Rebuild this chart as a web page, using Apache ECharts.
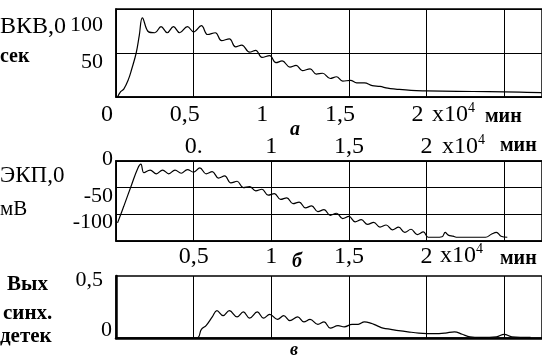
<!DOCTYPE html>
<html>
<head>
<meta charset="utf-8">
<script src="https://cdn.jsdelivr.net/npm/echarts@6.0.0/dist/echarts.min.js"></script>
<style>
  html, body { margin: 0; background: #fff; }
  #main { width: 542px; height: 362px; }
</style>
</head>
<body>
<div id="main"></div>
<script>
// x in units of 10^4 min
const tickValues = [0, 0.5, 1, 1.5, 2];
const tickTextA = ['0', '0,5', '1', '1,5', '2'];
const tickTextBTop = ['', '0.', '1', '1,5', '2'];
const tickTextBBottom = ['', '0,5', '1', '1,5', '2'];

// а) ВКВ, сек
const vkv = [[0.01,0],[0.03,6],[0.05,9],[0.08,20],[0.10,31],[0.13,50],[0.15,70],[0.17,90],
  [0.21,74],[0.25,73],[0.29,80],[0.33,73],[0.37,80],[0.41,73],[0.46,80],[0.50,74],[0.55,81],
  [0.59,71],[0.64,73],[0.68,64],[0.73,66],[0.77,57],[0.81,59],[0.86,51],[0.90,53],[0.94,45],
  [0.99,47],[1.03,39],[1.07,41],[1.12,34],[1.16,36],[1.20,30],[1.25,32],[1.29,26],[1.33,27],
  [1.38,21],[1.42,23],[1.46,18],[1.51,19],[1.55,16],[1.60,16],[1.65,13],[1.70,12],[1.75,10],
  [1.80,9],[1.90,7.5],[2.0,7],[2.2,6.5],[2.4,6],[2.6,5.5],[2.74,5]];

// б) ЭКП, мВ
const ekp = [[0.01,-116],[0.05,-85],[0.10,-45],[0.14,-14],[0.16,-6],[0.18,-22],[0.22,-17],
  [0.26,-24],[0.30,-17],[0.34,-24],[0.38,-17],[0.42,-23],[0.46,-16],[0.50,-21],[0.54,-13],
  [0.58,-24],[0.62,-20],[0.66,-32],[0.70,-28],[0.74,-41],[0.78,-38],[0.82,-50],[0.86,-48],
  [0.90,-56],[0.94,-53],[0.98,-64],[1.02,-61],[1.06,-72],[1.10,-69],[1.14,-80],[1.18,-77],
  [1.22,-88],[1.26,-84],[1.30,-95],[1.34,-91],[1.38,-102],[1.42,-98],[1.46,-108],[1.50,-104],
  [1.54,-114],[1.58,-110],[1.62,-119],[1.66,-115],[1.70,-124],[1.74,-120],[1.78,-129],
  [1.82,-124],[1.86,-134],[1.90,-128],[1.94,-138],[1.98,-133],[2.01,-143],[2.06,-143],
  [2.10,-142],[2.12,-134],[2.14,-139],[2.17,-141],[2.20,-143],[2.30,-143],[2.38,-143],
  [2.42,-137],[2.45,-134],[2.48,-141],[2.52,-143]];

// в) Вых синх. детек
const vyh = [[0,0],[0.52,0],[0.55,0.07],[0.58,0.10],[0.62,0.17],[0.65,0.22],[0.69,0.18],
  [0.73,0.22],[0.78,0.17],[0.82,0.21],[0.86,0.16],[0.91,0.21],[0.95,0.16],[0.99,0.19],
  [1.04,0.15],[1.08,0.18],[1.12,0.14],[1.17,0.17],[1.21,0.13],[1.25,0.15],[1.30,0.11],
  [1.34,0.13],[1.38,0.08],[1.43,0.10],[1.47,0.09],[1.52,0.11],[1.56,0.11],[1.60,0.13],
  [1.64,0.12],[1.68,0.10],[1.72,0.08],[1.77,0.07],[1.82,0.06],[1.88,0.05],[1.95,0.04],
  [2.05,0.035],[2.12,0.04],[2.18,0.05],[2.23,0.03],[2.28,0.01],[2.35,0.005],[2.45,0.01],
  [2.50,0.03],[2.55,0.01],[2.67,0.005]];

const FONT = '"Liberation Serif", "Times New Roman", serif';
const XMAX = 428 / 156;

function tickFmt(texts) {
  return function (v) {
    const i = tickValues.indexOf(Math.round(v * 100) / 100);
    return i < 0 ? '' : texts[i];
  };
}

function xAxis(grid, texts, extra) {
  return Object.assign({
    type: 'value', gridIndex: grid, min: 0, max: XMAX, interval: 0.5,
    axisLine: { lineStyle: { color: '#000', width: 1.5 } },
    axisTick: { show: false },
    splitLine: { show: true, lineStyle: { color: '#000', width: 1 } },
    axisLabel: texts ? {
      color: '#000', fontFamily: FONT, fontSize: 24,
      showMaxLabel: false, formatter: tickFmt(texts)
    } : { show: false }
  }, extra || {});
}

const lbl = (s) => Object.assign({ color: '#000', fontFamily: FONT, fontSize: 22 }, s);
const sup = { s: { fontSize: 14, fontFamily: FONT, fill: '#000', padding: [0, 0, 14, 0] } };

const chart = echarts.init(document.getElementById('main'));
chart.setOption({
  animation: false,
  backgroundColor: '#fff',
  grid: [
    { left: 116, top: 9, width: 428, height: 88, show: true, borderColor: '#000', borderWidth: 1.5 },
    { left: 116, top: 161, width: 428, height: 80, show: true, borderColor: '#000', borderWidth: 1.5 },
    { left: 116, top: 276, width: 428, height: 62, show: true, borderColor: '#000', borderWidth: 1.5 }
  ],
  xAxis: [
    xAxis(0, tickTextA, { axisLabel: { color: '#000', fontFamily: FONT, fontSize: 24, margin: 6,
      padding: [0, 18, 0, 0], showMaxLabel: false, formatter: tickFmt(tickTextA) } }),
    xAxis(1, tickTextBTop, { position: 'top', axisLabel: { color: '#000', fontFamily: FONT,
      fontSize: 24, margin: 2, showMaxLabel: false, formatter: tickFmt(tickTextBTop) } }),
    xAxis(1, tickTextBBottom, { position: 'bottom', splitLine: { show: false },
      axisLabel: { color: '#000', fontFamily: FONT, fontSize: 24, margin: 4,
        showMaxLabel: false, formatter: tickFmt(tickTextBBottom) } }),
    xAxis(2, null, { axisLine: { lineStyle: { color: '#000', width: 2.5 } } })
  ],
  yAxis: [
    {
      type: 'value', gridIndex: 0, min: 0, max: 100, interval: 50,
      axisLine: { show: true, lineStyle: { color: '#000', width: 1.5 } },
      axisTick: { show: false },
      splitLine: { lineStyle: { color: '#000', width: 1 } },
      axisLabel: {
        margin: 13, color: '#000', fontFamily: FONT, fontSize: 22,
        formatter: (v) => v === 100 ? '{a|100}' : v === 50 ? '{b|50}' : '',
        rich: { a: lbl({ padding: [32, 0, 0, 0] }), b: lbl({ padding: [18, 0, 0, 0] }) }
      }
    },
    {
      type: 'value', gridIndex: 1, min: -150, max: 0, interval: 50,
      axisLine: { show: true, lineStyle: { color: '#000', width: 1.5 } },
      axisTick: { show: false },
      splitLine: { lineStyle: { color: '#000', width: 1 } },
      axisLabel: {
        margin: 3, color: '#000', fontFamily: FONT, fontSize: 22,
        formatter: (v) => v === 0 ? '{a|0}' : v === -50 ? '{b|-50}' : v === -100 ? '{c|-100}' : '',
        rich: { a: lbl({ padding: [0, 0, 4, 0] }), b: lbl({ padding: [18, 0, 0, 0] }),
                c: lbl({ padding: [16, 0, 0, 0] }) }
      }
    },
    {
      type: 'value', gridIndex: 2, min: 0, max: 0.5, interval: 0.5,
      axisLine: { show: true, lineStyle: { color: '#000', width: 2.5 } },
      axisTick: { show: false },
      splitLine: { show: false },
      axisLabel: {
        margin: 4, color: '#000', fontFamily: FONT, fontSize: 22,
        formatter: (v) => v === 0.5 ? '{a|0,5}' : '{b|0}',
        rich: { a: lbl({ padding: [8, 9, 0, 0] }), b: lbl({ padding: [0, 0, 16, 0] }) }
      }
    }
  ],
  series: [
    { type: 'line', xAxisIndex: 0, yAxisIndex: 0, data: vkv, symbol: 'none', smooth: 0.4,
      lineStyle: { color: '#000', width: 1.2 } },
    { type: 'line', xAxisIndex: 1, yAxisIndex: 1, data: ekp, symbol: 'none', smooth: 0.4,
      lineStyle: { color: '#000', width: 1.2 } },
    { type: 'line', xAxisIndex: 3, yAxisIndex: 2, data: vyh, symbol: 'none', smooth: 0.4,
      lineStyle: { color: '#000', width: 1.2 } }
  ],
  graphic: [
    { type: 'text', x: 0, y: 27, style: { text: 'ВКВ,0', font: '24px ' + FONT, fill: '#000', verticalAlign: 'middle' } },
    { type: 'text', x: 0, y: 57, style: { text: 'сек', font: 'bold 20px ' + FONT, fill: '#000', verticalAlign: 'middle' } },
    { type: 'text', x: 0, y: 176, style: { text: 'ЭКП,0', font: '23px ' + FONT, fill: '#000', verticalAlign: 'middle' } },
    { type: 'text', x: 0, y: 209, style: { text: 'мВ', font: '21px ' + FONT, fill: '#000', verticalAlign: 'middle' } },
    { type: 'text', x: 7, y: 285, style: { text: 'Вых', font: 'bold 21px ' + FONT, fill: '#000', verticalAlign: 'middle' } },
    { type: 'text', x: 3, y: 314, style: { text: 'синх.', font: 'bold 21px ' + FONT, fill: '#000', verticalAlign: 'middle' } },
    { type: 'text', x: 0, y: 337, style: { text: 'детек', font: 'bold 21px ' + FONT, fill: '#000', verticalAlign: 'middle' } },
    { type: 'text', x: 432, y: 115, style: { text: 'x10{s|4}', font: '24px ' + FONT, fill: '#000', verticalAlign: 'middle', rich: sup } },
    { type: 'text', x: 485, y: 117, style: { text: 'мин', font: 'bold 20px ' + FONT, fill: '#000', verticalAlign: 'middle' } },
    { type: 'text', x: 442, y: 147, style: { text: 'x10{s|4}', font: '24px ' + FONT, fill: '#000', verticalAlign: 'middle', rich: sup } },
    { type: 'text', x: 500, y: 146, style: { text: 'мин', font: 'bold 20px ' + FONT, fill: '#000', verticalAlign: 'middle' } },
    { type: 'text', x: 440, y: 256, style: { text: 'x10{s|4}', font: '24px ' + FONT, fill: '#000', verticalAlign: 'middle', rich: sup } },
    { type: 'text', x: 500, y: 259, style: { text: 'мин', font: 'bold 20px ' + FONT, fill: '#000', verticalAlign: 'middle' } },
    { type: 'text', x: 290, y: 130, style: { text: 'а', font: 'italic bold 20px ' + FONT, fill: '#000', verticalAlign: 'middle' } },
    { type: 'text', x: 292, y: 262, style: { text: 'б', font: 'italic bold 20px ' + FONT, fill: '#000', verticalAlign: 'middle' } },
    { type: 'text', x: 290, y: 350, style: { text: 'в', font: 'italic bold 18px ' + FONT, fill: '#000', verticalAlign: 'middle' } }
  ]
});
</script>
</body>
</html>
